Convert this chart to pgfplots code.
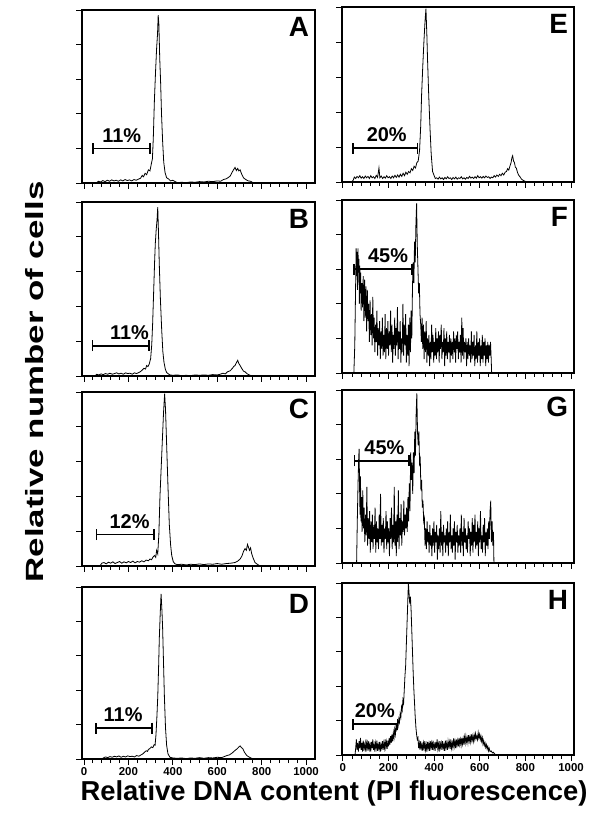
\documentclass[border=0pt]{standalone}
\usepackage{pgfplots}
\pgfplotsset{compat=1.18}
\usepackage{fontspec}
\setmainfont{Liberation Sans}
\usetikzlibrary{arrows.meta}

\pgfplotsset{
  panel/.style={scale only axis, ymin=0, ymax=5, ytick={0,1,...,5}, yticklabels={},
    xtick={0,200,...,1000}, minor x tick num=4, xticklabels={},
    tick align=outside, xtick pos=bottom, ytick pos=left,
    major tick length=6bp, minor tick length=4bp,
    axis line style={line width=1.3bp}, every tick/.style={black, line width=0.9bp},
    /pgf/number format/assume math mode=true,
    xticklabel style={font=\fontsize{11.5}{12}\bfseries, inner sep=2bp}},
  leftcol/.style={panel, width=233bp, xmin=-9, xmax=1040},
  rightcol/.style={panel, width=232bp, xmin=-4, xmax=1013},
  bottomrow/.style={xticklabels={0,200,400,600,800,1000}},
  trace/.style={black, line width=0.8bp, mark=none},
  gate/.style={black, line width=1.6bp, mark=none, {Bar[width=11bp]}-{Bar[width=11bp]}},
}
\tikzset{
  pct/.style={font=\fontsize{20}{20}\bfseries, anchor=south, inner sep=0pt, yshift=6bp},
  tag/.style={font=\fontsize{28}{28}\bfseries, anchor=north east, inner sep=0pt},
}

\begin{document}
\begin{tikzpicture}
\path[use as bounding box] (0,0) rectangle (601bp,820bp);

% ---- A
\begin{axis}[leftcol, height=173bp, at={(82bp,637bp)}, anchor=south west]
\addplot[trace] coordinates {(55,0)(65,0.05)(75,0.03)(85,0.07)(95,0.04)(105,0.08)(115,0.05)(125,0.09)(135,0.06)(145,0.08)(155,0.05)(165,0.09)(175,0.06)(185,0.1)(195,0.07)(205,0.09)(215,0.06)(225,0.1)(235,0.08)(245,0.11)(255,0.14)(262,0.22)(268,0.18)(275,0.28)(282,0.24)(290,0.38)(297,0.35)(303,0.55)(308,0.7)(312,1.3)(317,2.4)(322,3.2)(327,3.9)(331,4.3)(334,4.85)(337,4.6)(341,3.6)(345,2.9)(349,2.0)(354,1.2)(359,0.6)(365,0.3)(372,0.15)(380,0.12)(390,0.06)(400,0.08)(410,0.04)(420,0.01)(440,0.02)(460,0.01)(480,0.03)(500,0.02)(520,0.04)(540,0.03)(560,0.05)(580,0.04)(600,0.06)(615,0.05)(628,0.1)(640,0.12)(650,0.16)(658,0.2)(666,0.3)(673,0.38)(680,0.45)(686,0.36)(692,0.42)(697,0.35)(703,0.38)(709,0.27)(718,0.15)(728,0.1)(740,0.06)(750,0.05)(763,0)};
\addplot[gate] coordinates {(37,1)(300,1)};
\node[pct] at (axis cs:170,1) {11\%};
\node[tag] at (rel axis cs:0.975,0.96) {A};
\end{axis}

% ---- B
\begin{axis}[leftcol, height=174bp, at={(82bp,444bp)}, anchor=south west]
\addplot[trace] coordinates {(50,0)(57,0.05)(67,0.03)(77,0.06)(87,0.04)(97,0.07)(107,0.05)(117,0.08)(127,0.05)(137,0.07)(147,0.09)(157,0.06)(167,0.08)(177,0.05)(187,0.09)(197,0.07)(207,0.08)(217,0.05)(227,0.09)(237,0.07)(247,0.1)(255,0.13)(262,0.17)(270,0.22)(277,0.2)(282,0.3)(288,0.27)(294,0.35)(300,0.5)(305,0.9)(309,1.5)(314,2.5)(318,3.3)(321,3.8)(325,4.2)(329,4.5)(332,4.85)(335,4.2)(339,3.2)(344,2.2)(350,1.3)(355,0.7)(360,0.4)(366,0.2)(372,0.1)(380,0.06)(387,0.03)(400,0.02)(420,0.03)(440,0.01)(460,0.02)(480,0.01)(500,0.03)(520,0.02)(540,0.03)(560,0.02)(580,0.04)(600,0.03)(613,0.05)(625,0.08)(636,0.06)(646,0.12)(658,0.15)(668,0.22)(675,0.28)(680,0.3)(686,0.38)(692,0.45)(697,0.36)(703,0.3)(710,0.22)(718,0.14)(725,0.12)(735,0.06)(748,0.02)(760,0)};
\addplot[gate] coordinates {(35,0.87)(297,0.87)};
\node[pct] at (axis cs:205,0.87) {11\%};
\node[tag] at (rel axis cs:0.975,0.96) {B};
\end{axis}

% ---- C
\begin{axis}[leftcol, height=174bp, at={(82bp,254bp)}, anchor=south west]
\addplot[trace] coordinates {(72,0)(80,0.08)(90,0.1)(100,0.06)(110,0.11)(120,0.08)(130,0.12)(140,0.07)(150,0.1)(160,0.13)(170,0.08)(180,0.12)(190,0.09)(200,0.13)(210,0.1)(220,0.14)(230,0.09)(240,0.13)(250,0.11)(260,0.15)(270,0.12)(280,0.17)(290,0.15)(297,0.2)(304,0.18)(312,0.27)(318,0.3)(323,0.25)(327,0.45)(332,0.35)(337,0.9)(342,2.0)(348,2.9)(354,3.8)(358,4.4)(363,4.95)(367,4.5)(372,3.5)(378,2.3)(384,1.2)(390,0.6)(395,0.3)(402,0.12)(410,0.06)(420,0.04)(440,0.05)(460,0.03)(480,0.05)(500,0.04)(520,0.06)(540,0.04)(560,0.06)(580,0.05)(600,0.07)(620,0.05)(640,0.07)(660,0.08)(680,0.1)(692,0.14)(703,0.2)(712,0.3)(718,0.42)(725,0.5)(731,0.45)(736,0.62)(740,0.55)(745,0.45)(750,0.52)(755,0.35)(762,0.22)(770,0.1)(780,0.05)(793,0)};
\addplot[gate] coordinates {(53,0.9)(320,0.9)};
\node[pct] at (axis cs:205,0.9) {12\%};
\node[tag] at (rel axis cs:0.975,0.96) {C};
\end{axis}

% ---- D
\begin{axis}[leftcol, bottomrow, height=172bp, at={(82bp,61bp)}, anchor=south west]
\addplot[trace] coordinates {(80,0)(87,0.03)(97,0.06)(107,0.04)(117,0.07)(127,0.05)(137,0.08)(147,0.06)(157,0.09)(167,0.05)(177,0.08)(187,0.06)(197,0.09)(207,0.07)(217,0.08)(227,0.06)(237,0.1)(247,0.08)(257,0.12)(265,0.15)(273,0.2)(280,0.24)(286,0.22)(290,0.28)(296,0.3)(303,0.35)(310,0.33)(316,0.42)(320,0.4)(324,0.7)(328,1.2)(332,1.8)(336,2.7)(339,3.5)(343,4.2)(347,4.8)(351,4.3)(354,3.8)(358,2.8)(362,1.8)(367,0.9)(372,0.4)(378,0.15)(387,0.05)(400,0.03)(420,0.02)(440,0.03)(460,0.01)(480,0.03)(500,0.02)(520,0.04)(540,0.02)(560,0.04)(580,0.03)(600,0.05)(620,0.04)(643,0.1)(655,0.12)(668,0.18)(680,0.25)(690,0.3)(697,0.35)(703,0.38)(709,0.33)(715,0.3)(722,0.2)(733,0.1)(745,0.05)(755,0.02)(765,0)};
\addplot[gate] coordinates {(50,0.9)(309,0.9)};
\node[pct] at (axis cs:176,0.9) {11\%};
\node[tag] at (rel axis cs:0.975,0.96) {D};
\end{axis}

% ---- E
\begin{axis}[rightcol, height=175bp, at={(342bp,638bp)}, anchor=south west]
\addplot[trace] coordinates {(38,0)(45,0.05)(50,0.14)(56,0.1)(62,0.16)(68,0.12)(74,0.18)(80,0.11)(86,0.15)(92,0.1)(98,0.17)(104,0.12)(110,0.16)(116,0.1)(122,0.18)(128,0.12)(134,0.15)(140,0.1)(146,0.19)(152,0.13)(158,0.4)(162,0.12)(168,0.17)(174,0.1)(180,0.15)(186,0.11)(192,0.18)(198,0.12)(204,0.15)(210,0.1)(216,0.17)(222,0.12)(228,0.19)(234,0.13)(240,0.2)(246,0.14)(252,0.22)(258,0.16)(264,0.25)(270,0.18)(276,0.28)(282,0.22)(288,0.3)(294,0.26)(300,0.38)(306,0.33)(312,0.45)(318,0.4)(324,0.55)(330,0.6)(336,0.9)(341,1.6)(345,2.5)(350,3.3)(355,4.0)(360,4.6)(364,4.95)(368,4.2)(371,3.5)(376,2.5)(382,1.5)(387,0.8)(393,0.3)(400,0.18)(405,0.1)(411,0.12)(417,0.08)(423,0.14)(429,0.09)(435,0.12)(441,0.07)(447,0.13)(453,0.09)(459,0.15)(465,0.1)(471,0.12)(477,0.07)(483,0.13)(489,0.09)(495,0.14)(501,0.08)(507,0.12)(513,0.1)(519,0.15)(525,0.09)(531,0.12)(537,0.08)(543,0.13)(549,0.1)(555,0.16)(561,0.11)(567,0.14)(573,0.1)(579,0.15)(585,0.11)(591,0.18)(597,0.12)(603,0.15)(609,0.11)(615,0.16)(621,0.12)(627,0.17)(633,0.13)(639,0.15)(645,0.1)(651,0.14)(657,0.12)(663,0.18)(669,0.14)(675,0.2)(681,0.16)(687,0.22)(693,0.18)(699,0.25)(705,0.2)(711,0.28)(717,0.3)(722,0.38)(727,0.34)(732,0.45)(737,0.55)(741,0.7)(744,0.75)(748,0.6)(752,0.55)(756,0.42)(760,0.4)(765,0.28)(770,0.2)(776,0.15)(783,0.08)(792,0.04)(806,0)};
\addplot[gate] coordinates {(42,0.97)(330,0.97)};
\node[pct] at (axis cs:192,0.97) {20\%};
\node[tag] at (rel axis cs:0.975,0.96) {E};
\end{axis}

% ---- F
\begin{axis}[rightcol, height=173bp, at={(342bp,447bp)}, anchor=south west]
\addplot[trace] coordinates {(48,0)(52,0.8)(55,2.2)(58,3.6)(60,2.8)(62,3.5)(64,2.4)(66,3.6)(68,2.9)(70,3.3)(72,2.0)(74,3.1)(76,2.3)(78,2.9)(80,1.8)(83,2.6)(86,1.9)(89,2.8)(92,1.5)(95,2.7)(98,1.6)(101,2.5)(104,1.2)(107,2.4)(110,1.5)(113,2.0)(116,0.9)(119,2.1)(122,1.1)(125,1.7)(128,0.8)(131,2.2)(134,1.0)(137,1.6)(140,0.6)(143,1.4)(146,0.9)(149,1.8)(152,0.5)(155,1.3)(158,0.8)(161,1.5)(164,0.4)(167,1.2)(170,0.7)(173,1.6)(176,0.5)(179,1.1)(182,0.6)(185,1.7)(188,0.4)(191,1.3)(194,0.7)(197,1.5)(200,0.5)(203,1.2)(206,0.8)(209,1.8)(212,0.6)(215,1.4)(218,0.3)(221,1.1)(224,0.7)(227,1.6)(230,0.5)(233,1.3)(236,0.8)(239,1.9)(242,0.4)(245,1.2)(248,0.7)(251,1.5)(254,0.3)(257,1.0)(260,0.6)(263,2.0)(266,0.5)(269,1.4)(272,0.8)(275,1.7)(278,0.3)(281,1.1)(284,0.5)(287,1.4)(290,0.2)(293,1.6)(296,0.6)(299,1.8)(302,1.0)(305,2.5)(308,3.2)(311,2.6)(314,3.8)(317,3.2)(320,4.3)(323,4.9)(326,3.7)(329,3.0)(332,2.3)(335,2.6)(338,1.7)(341,1.4)(344,0.9)(347,1.6)(350,0.7)(353,1.4)(356,0.4)(359,1.2)(362,0.6)(365,1.5)(368,0.3)(371,1.0)(374,0.5)(377,1.1)(380,0.2)(383,0.9)(386,0.4)(389,1.4)(392,0.6)(395,1.1)(398,0.3)(401,0.9)(404,0.5)(407,1.3)(410,0.4)(413,1.0)(416,0.6)(419,1.2)(422,0.3)(425,1.1)(428,0.7)(431,1.4)(434,0.4)(437,0.9)(440,0.6)(443,1.3)(446,0.2)(449,1.0)(452,0.5)(455,1.2)(458,0.4)(461,0.9)(464,0.6)(467,1.1)(470,0.3)(473,1.0)(476,0.5)(479,0.9)(482,0.4)(485,1.2)(488,0.6)(491,1.0)(494,0.3)(497,1.1)(500,0.7)(503,1.2)(506,0.4)(509,0.9)(512,0.6)(515,1.1)(518,0.3)(521,1.6)(524,0.5)(527,1.3)(530,0.4)(533,0.9)(536,0.6)(539,1.0)(542,0.2)(545,0.9)(548,0.4)(551,1.0)(554,0.5)(557,0.8)(560,0.3)(563,1.2)(566,0.4)(569,0.9)(572,0.5)(575,1.1)(578,0.2)(581,0.8)(584,0.4)(587,1.2)(590,0.3)(593,0.9)(596,0.5)(599,1.0)(602,0.2)(605,0.8)(608,0.4)(611,1.1)(614,0.3)(617,0.9)(620,0.5)(623,1.0)(626,0.2)(629,0.8)(632,0.4)(635,0.9)(638,0.3)(641,0.8)(644,0.5)(647,0.9)(650,0.4)(652,0)};
\addplot[gate] coordinates {(45,3)(306,3)};
\node[pct] at (axis cs:198,3) {45\%};
\node[tag] at (rel axis cs:0.975,0.96) {F};
\end{axis}

% ---- G
\begin{axis}[rightcol, height=173bp, at={(342bp,257bp)}, anchor=south west]
\addplot[trace] coordinates {(60,0)(63,1.2)(66,2.2)(69,3.0)(71,3.3)(73,2.2)(75,1.4)(77,2.5)(79,1.2)(81,1.9)(84,0.9)(87,2.1)(90,1.0)(93,1.6)(96,0.6)(99,1.4)(102,0.8)(105,2.2)(108,0.5)(111,1.3)(114,0.7)(117,1.5)(120,0.3)(123,1.2)(126,0.6)(129,1.4)(132,0.4)(135,1.1)(138,0.7)(141,1.6)(144,0.3)(147,1.2)(150,0.6)(153,1.0)(156,0.4)(159,1.4)(162,0.7)(165,2.0)(168,0.5)(171,1.1)(174,0.6)(177,1.3)(180,0.3)(183,1.0)(186,0.7)(189,1.5)(192,0.4)(195,1.2)(198,0.6)(201,1.0)(204,0.2)(207,1.3)(210,0.7)(213,1.6)(216,0.4)(219,1.1)(222,0.6)(225,2.2)(228,0.5)(231,1.2)(234,0.2)(237,1.4)(240,0.6)(243,2.1)(246,0.4)(249,1.3)(252,0.8)(255,1.7)(258,0.5)(261,1.2)(264,0.9)(267,1.8)(270,0.8)(273,1.4)(276,1.0)(279,1.6)(282,0.9)(285,1.9)(288,1.2)(291,2.3)(294,1.5)(297,3.2)(300,2.4)(303,2.9)(306,2.0)(309,3.2)(312,2.6)(315,3.8)(318,3.1)(321,4.3)(324,4.9)(327,3.8)(330,3.4)(333,3.8)(336,2.9)(339,3.0)(342,2.1)(345,2.4)(348,1.6)(351,1.8)(354,1.2)(357,1.3)(360,0.5)(363,1.0)(366,0.4)(369,1.2)(372,0.6)(375,0.9)(378,0.3)(381,1.1)(384,0.5)(387,0.8)(390,0.2)(393,1.0)(396,0.5)(399,1.2)(402,0.3)(405,0.9)(408,0.6)(411,1.1)(414,0.1)(417,0.8)(420,0.4)(423,1.0)(426,0.3)(429,1.5)(432,0.5)(435,0.9)(438,0.2)(441,1.1)(444,0.6)(447,0.8)(450,0.3)(453,1.0)(456,0.5)(459,1.2)(462,0.2)(465,0.9)(468,0.6)(471,1.4)(474,0.4)(477,0.8)(480,0.3)(483,1.0)(486,0.5)(489,1.2)(492,0.1)(495,0.9)(498,0.6)(501,1.1)(504,0.3)(507,0.8)(510,0.5)(513,1.0)(516,0.3)(519,1.4)(522,0.5)(525,0.9)(528,0.2)(531,1.3)(534,0.6)(537,1.0)(540,0.4)(543,0.8)(546,0.3)(549,1.2)(552,0.7)(555,1.0)(558,0.2)(561,0.9)(564,0.5)(567,1.3)(570,0.3)(573,1.1)(576,0.6)(579,1.4)(582,0.4)(585,0.9)(588,0.5)(591,1.2)(594,0.2)(597,1.0)(600,0.6)(603,1.5)(606,0.4)(609,0.8)(612,0.3)(615,1.1)(618,0.6)(621,1.3)(624,0.2)(627,0.9)(630,0.5)(633,1.0)(636,0.4)(639,1.2)(642,0.7)(645,1.5)(648,1.8)(651,0.6)(654,1.2)(657,0.5)(660,0.9)(662,0)};
\addplot[gate] coordinates {(48,2.95)(294,2.95)};
\node[pct] at (axis cs:182,2.95) {45\%};
\node[tag] at (rel axis cs:0.975,0.96) {G};
\end{axis}

% ---- H
\begin{axis}[rightcol, bottomrow, height=172bp, at={(342bp,65bp)}, anchor=south west]
\addplot[trace] coordinates {(53,0)(56,0.2)(59,0.45)(62,0.15)(65,0.35)(68,0.1)(71,0.4)(74,0.2)(77,0.5)(80,0.15)(83,0.35)(86,0.1)(89,0.42)(92,0.2)(95,0.3)(98,0.1)(101,0.45)(104,0.2)(107,0.35)(110,0.12)(113,0.4)(116,0.18)(119,0.3)(122,0.1)(125,0.38)(128,0.2)(131,0.45)(134,0.15)(137,0.3)(140,0.1)(143,0.35)(146,0.2)(149,0.42)(152,0.12)(155,0.3)(158,0.18)(161,0.38)(164,0.1)(167,0.3)(170,0.2)(173,0.4)(176,0.15)(179,0.35)(182,0.2)(185,0.45)(188,0.22)(191,0.38)(194,0.18)(197,0.42)(200,0.25)(203,0.5)(206,0.3)(209,0.55)(212,0.35)(215,0.6)(218,0.4)(221,0.65)(224,0.5)(227,0.75)(230,0.6)(233,0.85)(236,0.75)(239,0.95)(242,0.85)(245,1.05)(248,0.95)(251,1.2)(254,1.1)(257,1.4)(260,1.3)(263,1.6)(266,1.5)(269,1.9)(272,2.3)(275,2.6)(278,3.2)(281,3.8)(284,4.4)(287,5.0)(290,4.7)(293,4.4)(296,4.6)(299,4.2)(302,3.6)(305,3.0)(308,2.4)(311,1.9)(314,1.5)(317,1.1)(320,0.8)(323,0.6)(326,0.45)(329,0.5)(332,0.2)(335,0.35)(338,0.15)(341,0.4)(344,0.2)(347,0.3)(350,0.12)(353,0.35)(356,0.2)(359,0.4)(362,0.15)(365,0.3)(368,0.1)(371,0.38)(374,0.2)(377,0.33)(380,0.12)(383,0.4)(386,0.22)(389,0.35)(392,0.15)(395,0.42)(398,0.2)(401,0.3)(404,0.12)(407,0.38)(410,0.2)(413,0.45)(416,0.18)(419,0.32)(422,0.1)(425,0.4)(428,0.22)(431,0.35)(434,0.15)(437,0.4)(440,0.2)(443,0.3)(446,0.12)(449,0.42)(452,0.22)(455,0.35)(458,0.15)(461,0.4)(464,0.25)(467,0.38)(470,0.18)(473,0.45)(476,0.2)(479,0.35)(482,0.22)(485,0.48)(488,0.25)(491,0.4)(494,0.2)(497,0.45)(500,0.28)(503,0.42)(506,0.25)(509,0.5)(512,0.3)(515,0.45)(518,0.28)(521,0.5)(524,0.32)(527,0.48)(530,0.3)(533,0.52)(536,0.35)(539,0.55)(542,0.38)(545,0.5)(548,0.35)(551,0.58)(554,0.4)(557,0.52)(560,0.38)(563,0.6)(566,0.42)(569,0.55)(572,0.4)(575,0.58)(578,0.45)(581,0.62)(584,0.48)(587,0.55)(590,0.45)(593,0.65)(596,0.5)(599,0.6)(602,0.45)(605,0.55)(608,0.4)(611,0.5)(614,0.32)(617,0.42)(620,0.28)(623,0.35)(626,0.22)(629,0.3)(632,0.18)(635,0.25)(638,0.12)(641,0.2)(645,0.1)(650,0.12)(655,0.06)(660,0.08)(665,0.03)(673,0)};
\addplot[gate] coordinates {(42,0.9)(242,0.9)};
\node[pct] at (axis cs:140,0.9) {20\%};
\node[tag] at (rel axis cs:0.975,0.96) {H};
\end{axis}

% ---- shared labels
\node[font=\fontsize{27.5}{28}\bfseries, anchor=base] at (334bp,20bp) {Relative DNA content (PI fluorescence)};
\node[rotate=90, inner sep=0pt] at (35bp,438bp) {\scalebox{1.4}[1]{\fontsize{25}{25}\bfseries Relative number of cells}};
\end{tikzpicture}
\end{document}
